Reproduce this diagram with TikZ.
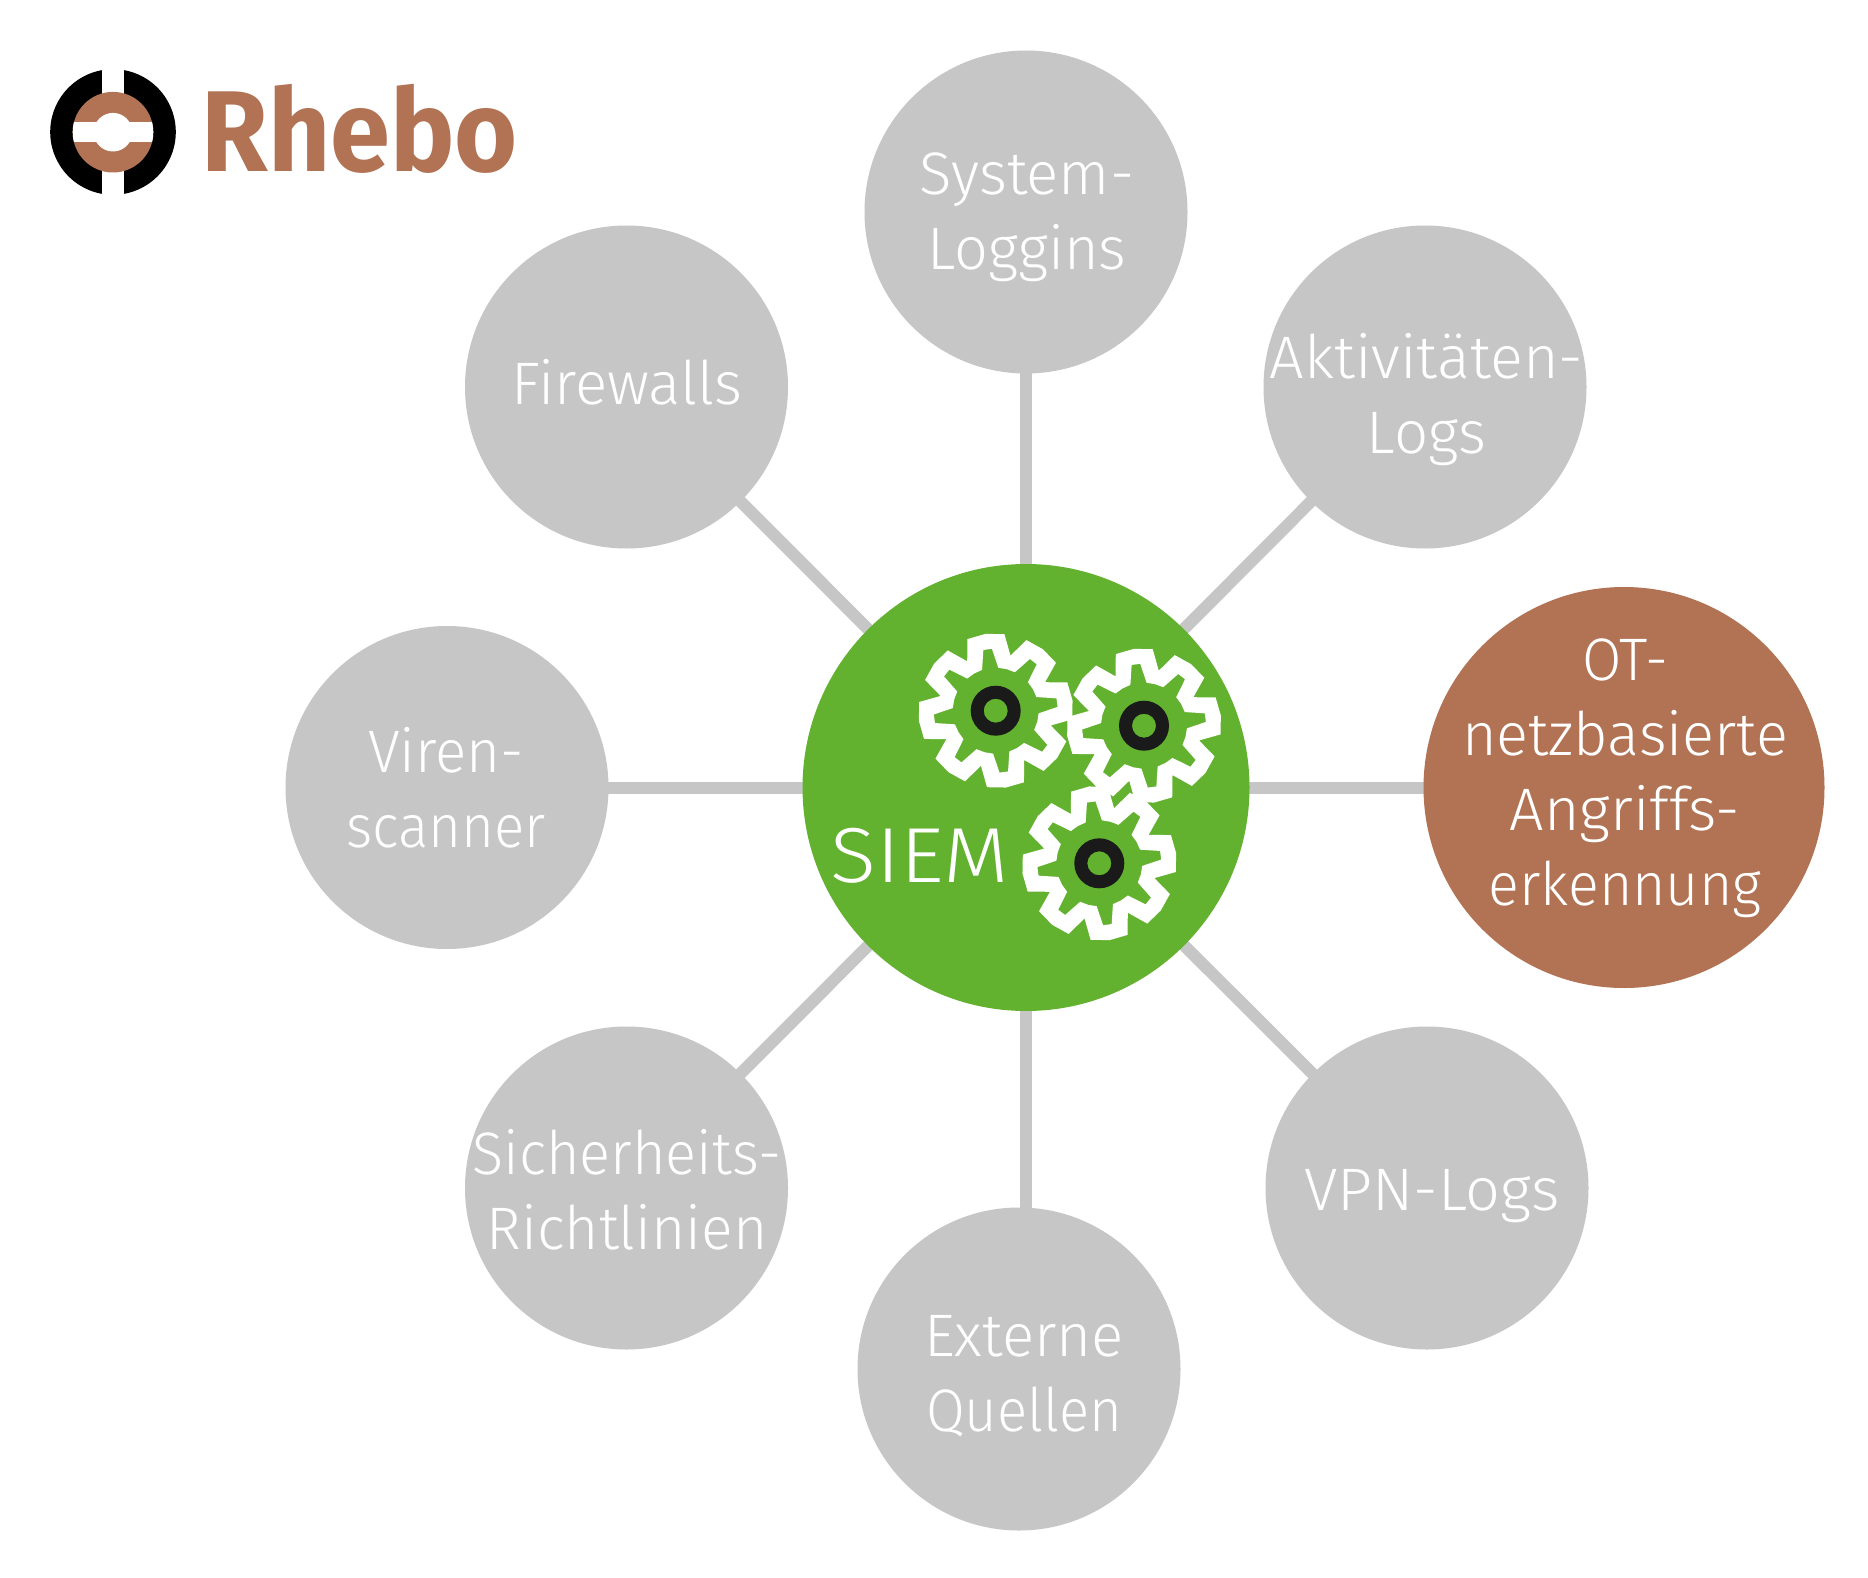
\documentclass[tikz,border=0pt]{standalone}
\usepackage{fontspec}
\usetikzlibrary{backgrounds}
\newfontfamily\lab{Fira Sans Light}
\newfontfamily\siemfont[FakeStretch=1.09]{Fira Sans Light}
\newfontfamily\logofont[FakeStretch=0.94]{Fira Sans Bold}
\newcommand{\lw}[2]{{\addfontfeature{FakeStretch=#1}#2}}
\definecolor{nodegrey}{HTML}{C6C6C6}
\definecolor{siemgreen}{HTML}{63B22F}
\definecolor{rhebobrown}{HTML}{B27354}
\definecolor{gearblack}{HTML}{1A1A1A}
\tikzset{
  disc/.style={circle,fill=nodegrey,draw=none,inner sep=0pt,minimum size=161.5pt},
  lbl/.style={text=white,inner sep=0pt,align=center,anchor=base,font=\lab\fontsize{30}{37.5}\selectfont},
  link/.style={draw=nodegrey,line width=6pt},
  gear/.pic={
    \fill[white,even odd rule] (-120:57)
      \foreach \a in {97.5,52.5,7.5,-37.5,-82.5,-127.5,-172.5,-217.5}{
        -- ({-\a-14}:77) -- ({-\a}:77.5) -- ({-\a+14}:77) -- ({-\a+22.5}:57)
      } -- cycle
      (-120:43)
      \foreach \a in {97.5,52.5,7.5,-37.5,-82.5,-127.5,-172.5,-217.5}{
        -- ({-\a-11}:43) -- ({-\a-4}:62) -- ({-\a+4}:62) -- ({-\a+11}:43) -- ({-\a+22.5}:43)
      } -- cycle;
    \fill[gearblack,even odd rule] (0,0) circle[radius=25] (0,0) circle[radius=12];
  }
}
\begin{document}
\begin{tikzpicture}[x=0.5pt,y=-0.5pt]
\useasboundingbox (0,0) rectangle (1868,1578);
\begin{scope}[on background layer]
  \fill[white] (0,0) rectangle (1868,1578);
\end{scope}
% nodes
\node[disc] (system) at (1026,212) {};
\node[disc] (aktiv) at (1425,387) {};
\node[disc] (firewalls) at (626.5,387) {};
\node[disc] (viren) at (447,787.5) {};
\node[disc] (vpn) at (1427,1188) {};
\node[disc] (sicher) at (626.5,1188) {};
\node[disc] (extern) at (1019,1369) {};
\node[circle,fill=rhebobrown,inner sep=0pt,minimum size=200.5pt] (ot) at (1624,787.5) {};
\node[circle,fill=siemgreen,inner sep=0pt,minimum size=223.5pt] (siem) at (1026,787.5) {};
% connectors
\begin{scope}[on background layer]
  \draw[link] (siem.center) -- (system.center);
  \draw[link] (siem.center) -- (aktiv.center);
  \draw[link] (siem.center) -- (firewalls.center);
  \draw[link] (siem.center) -- (viren.center);
  \draw[link] (siem.center) -- (ot.center);
  \draw[link] (siem.center) -- (vpn.center);
  \draw[link] (siem.center) -- (sicher.center);
  \draw[link] (siem.center) -- (siem.center |- extern.center);
\end{scope}
% labels
\node[lbl] (systemT) at (1027,270) {System-\\\lw{0.99}{Loggins}};
\node[lbl] (aktivT) at (1426.5,453) {\lw{1.02}{Aktivitäten-}\\Logs};
\node[lbl] (firewallsT) at (627,404) {Firewalls};
\node[lbl] (virenT) at (446,847) {\lw{0.97}{Viren-}\\\lw{0.94}{scanner}};
\node[lbl] (otT) at (1625,905) {\lw{0.95}{OT-}\\\lw{0.99}{netzbasierte}\\\lw{1.015}{Angriffs-}\\\lw{0.955}{erkennung}};
\node[lbl] (vpnT) at (1432,1210) {\lw{1.02}{VPN-Logs}};
\node[lbl] (sicherT) at (627,1249) {\lw{0.96}{Sicherheits-}\\\lw{0.98}{Richtlinien}};
\node[lbl] (externT) at (1024,1431) {Externe\\\lw{0.936}{Quellen}};
\node[text=white,inner sep=0pt,anchor=base west,font=\siemfont\fontsize{39}{39}\selectfont] (siemT) at (830,882.7) {SIEM};
% gears
\pic at (995.7,710.7) {gear};
\pic at (1144,725.7) {gear};
\pic at (1099.3,863.3) {gear};
% logo
\fill[black] (113,132) circle[radius=62.8];
\fill[white] (102.3,60) rectangle (123.7,204);
\fill[rhebobrown] (113,132.2) circle[radius=40.3];
\begin{scope}
  \clip (113,132.2) circle[radius=40.3];
  \fill[white] (60,121.7) rectangle (170,142.3);
  \fill[white] (113,132.2) circle[radius=19.3];
\end{scope}
\node[text=rhebobrown,inner sep=0pt,anchor=base west,font=\logofont\fontsize{57.5}{57.5}\selectfont] (logoT) at (201,171.7) {Rhebo};
\end{tikzpicture}
\end{document}
